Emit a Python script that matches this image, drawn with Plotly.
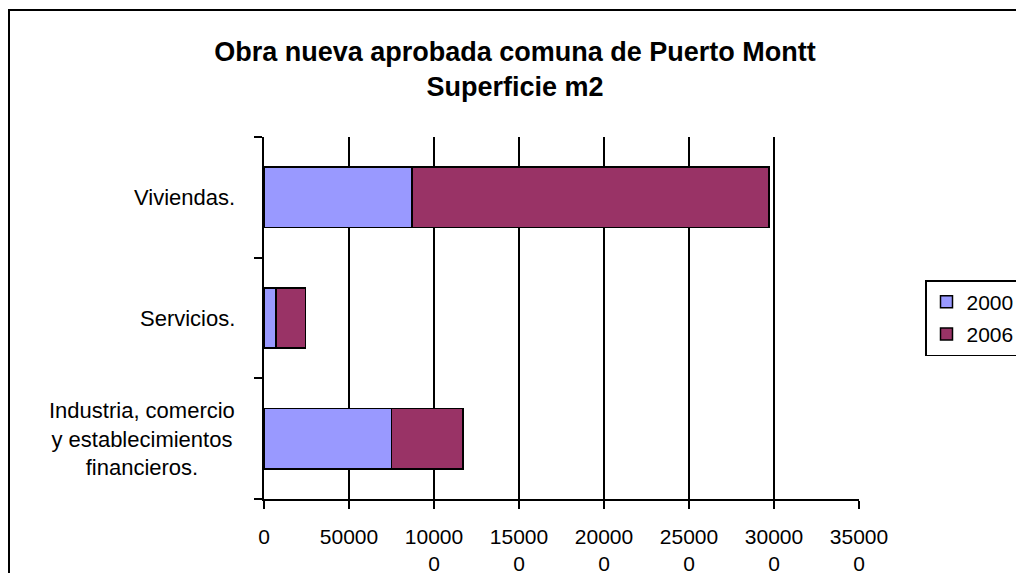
import plotly.graph_objects as go

categories = ["Industria, comercio<br>y establecimientos<br>financieros.", "Servicios.", "Viviendas."]
series_names = ["2000", "2006"]
values_2000 = [75000, 7000, 87000]
values_2006 = [42000, 17500, 210000]
tick_vals = [0, 50000, 100000, 150000, 200000, 250000, 300000, 350000]
tick_text = ["0", "50000", "10000<br>0", "15000<br>0", "20000<br>0", "25000<br>0", "30000<br>0", "35000<br>0"]
title_text = "<b>Obra nueva aprobada comuna de Puerto Montt<br>Superficie m2</b>"

colors = ["#9999FF", "#993366"]
FONT = "Liberation Sans, Arial, sans-serif"

W, H = 1016, 573
L, R = 264, 859
T, B = 137, 499
pw, ph = R - L, B - T

fig = go.Figure()
for name, vals, col in zip(series_names, [values_2000, values_2006], colors):
    fig.add_trace(go.Bar(
        y=categories, x=vals, name=name, orientation="h",
        marker=dict(color=col, line=dict(color="black", width=1.5)),
        legendgroup=name,
    ))

# category labels, centered lines, right-aligned block
for c in categories:
    fig.add_annotation(
        x=(237 - L) / pw, xref="paper", xanchor="right",
        y=c, yref="y", yanchor="middle",
        text=c, showarrow=False, align="center",
        font=dict(family=FONT, size=22, color="black"),
    )

# outer chart border
fig.add_shape(type="rect", xref="paper", yref="paper",
              x0=(9 - L) / pw, x1=(W + 20 - L) / pw,
              y0=(B - (H + 20)) / ph, y1=(B - 10) / ph,
              line=dict(color="black", width=2), fillcolor="rgba(0,0,0,0)", layer="below")

fig.update_layout(
    width=W, height=H,
    margin=dict(l=L, r=W - R, t=T, b=H - B, autoexpand=False),
    paper_bgcolor="white", plot_bgcolor="white",
    barmode="stack", bargap=0.5,
    font=dict(family=FONT, size=21, color="black"),
    title=dict(text=title_text, x=515 / W, xanchor="center", xref="container",
               y=1 - 61 / H, yanchor="top", yref="container",
               font=dict(family=FONT, size=27, color="black")),
    legend=dict(x=(925 - L) / pw, xanchor="left", y=(B - 280) / ph, yanchor="top",
                bordercolor="black", borderwidth=1.5, bgcolor="white",
                traceorder="grouped", tracegroupgap=2, itemwidth=30,
                font=dict(family=FONT, size=21, color="black")),
    showlegend=True,
)
fig.update_xaxes(range=[0, 350000], tickvals=tick_vals, ticktext=tick_text,
                 showgrid=True, gridcolor="black", gridwidth=1.5,
                 zeroline=False, showline=True, linecolor="black", linewidth=1.5,
                 ticks="outside", ticklen=8, tickcolor="black", tickwidth=1.5,
                 ticklabelstandoff=10,
                 tickfont=dict(family=FONT, size=21, color="black"))
fig.update_yaxes(range=[-0.5, 2.5], showticklabels=False, showgrid=False,
                 zeroline=False, showline=True, linecolor="black", linewidth=1.5,
                 ticks="outside", ticklen=8, tickcolor="black", tickwidth=1.5,
                 tickson="boundaries")

fig.write_html("out.html", config={"displayModeBar": False},
               post_script="document.body.style.margin='0';document.body.style.overflow='hidden';")
